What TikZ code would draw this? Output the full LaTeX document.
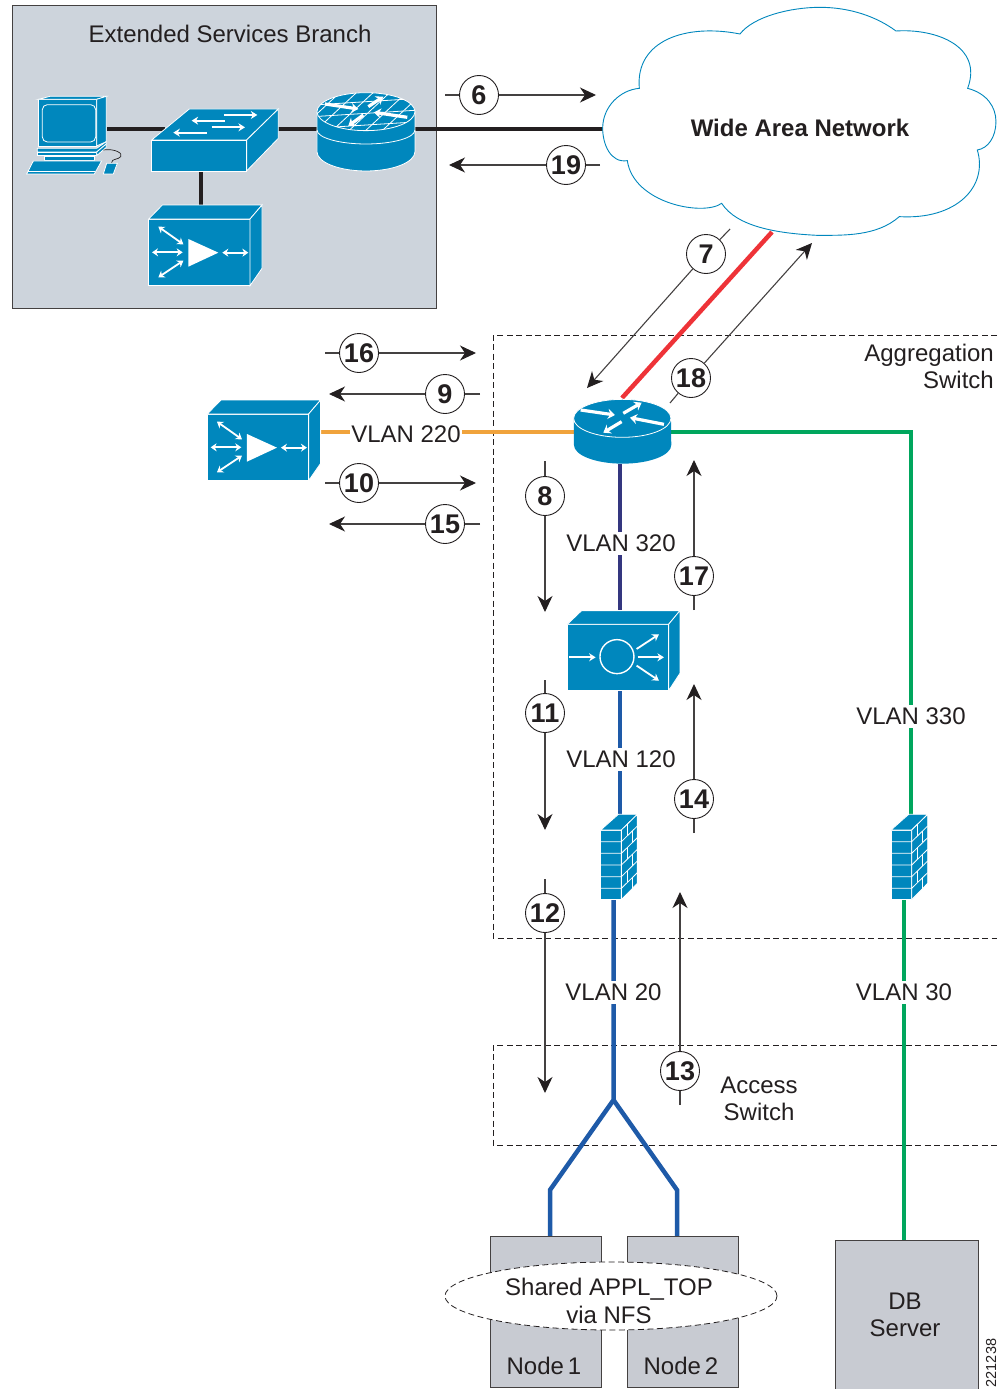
\documentclass[tikz,border=0pt]{standalone}
\usepackage{fontspec}
\setmainfont{Liberation Sans}
\usetikzlibrary{arrows.meta,shapes.geometric,calc}
\definecolor{cisco}{HTML}{0087BD}
\definecolor{panelgray}{HTML}{CDD4DC}
\definecolor{servergray}{HTML}{C8CBD2}
\definecolor{vorange}{HTML}{F0A33C}
\definecolor{vgreen}{HTML}{00A65D}
\definecolor{vpurple}{HTML}{34367F}
\definecolor{vblue}{HTML}{1E5AA8}
\definecolor{vred}{HTML}{EE3338}
\definecolor{inkc}{HTML}{231F20}
\tikzset{
  lbl/.style={font=\fontsize{24}{27}\selectfont,text=inkc,inner sep=0pt,align=center},
  vlan/.style={lbl,fill=white,inner xsep=1pt,inner ysep=3pt},
  num/.style={circle,draw=inkc,line width=0.9pt,fill=white,minimum size=39pt,inner sep=0pt,
     text=inkc,font=\bfseries\fontsize{27}{27}\selectfont},
  flow/.style={draw=inkc!85,line width=1.1pt},
  flowtip/.style={flow,-{Stealth[length=16pt,width=15pt,inset=5pt,inkc]}},
  wire/.style={line width=4.5pt},
  blackwire/.style={wire,draw=inkc},
  wl/.style={draw=white,line width=0.8pt},
  wa/.style={draw=white,line width=1.8pt,{Stealth[length=6pt,width=8pt]}-{Stealth[length=6pt,width=8pt]}},
  wb/.style={draw=white,line width=1.8pt,-{Stealth[length=6.5pt,width=8pt]}},
  wt/.style={draw=white,line width=3.2pt,-{Stealth[length=7pt,width=10pt]}},
  box/.style={draw=inkc!85,line width=1pt,fill=servergray},
  dashbox/.style={draw=inkc,line width=0.8pt,dash pattern=on 6pt off 3.5pt},
}
\newcommand{\iconscope}[3]{\coordinate (#3) at (#1,#2);\begin{scope}[shift={(#1,#2)},x=0.3333pt,y=-0.3333pt]}
% director icon, origin = top-left of front face
\newcommand{\director}[3]{\iconscope{#1}{#2}{#3}
  \fill[cisco,wl] (0,0) rectangle (304,200);
  \fill[cisco,wl] (0,0) -- (41,-42) -- (340,-42) -- (304,0) -- cycle;
  \fill[cisco,wl] (304,0) -- (340,-42) -- (340,148) -- (304,200) -- cycle;
  \fill[white] (119,60) -- (119,143) -- (209,101) -- cycle;
  \draw[wa] (221,101) -- (299,101);
  \draw[wa] (29,23) -- (104,76);
  \draw[wa] (10,100) -- (102,100);
  \draw[wa] (29,175) -- (104,125);
\end{scope}}
% load balancer icon
\newcommand{\balancer}[3]{\iconscope{#1}{#2}{#3}
  \fill[cisco,wl] (0,0) rectangle (304,199);
  \fill[cisco,wl] (0,0) -- (43,-41) -- (338,-41) -- (304,0) -- cycle;
  \fill[cisco,wl] (304,0) -- (338,-41) -- (338,147) -- (304,199) -- cycle;
  \draw[white,line width=1.4pt] (149,97) circle [radius=51];
  \draw[wb] (6,99) -- (85,99);
  \draw[wb] (208,74) -- (275,30);
  \draw[wb] (211,99) -- (290,99);
  \draw[wb] (208,124) -- (275,169);
\end{scope}}
% firewall icon
\newcommand{\firewall}[3]{\iconscope{#1}{#2}{#3}
  \fill[cisco,wl] (0,0) rectangle (62,209);
  \fill[cisco,wl] (0,0) -- (53,-47) -- (110,-47) -- (62,0) -- cycle;
  \fill[cisco,wl] (62,0) -- (110,-47) -- (110,160) -- (62,209) -- cycle;
  \foreach \yy in {35,70,105,140,175} {
    \draw[wl] (0,\yy) -- (62,\yy) -- (110,\yy-47);
  }
  \foreach \yy/\xx in {0/80,35/95,70/80,105/95,140/80,175/95} {
    \draw[wl] (\xx,{\yy-(\xx-62)}) -- (\xx,{\yy-(\xx-62)+35});
  }
\end{scope}}
\begin{document}
\begin{tikzpicture}[x=1pt,y=-1pt]
\useasboundingbox (0,0) rectangle (997,1389);
% branch panel
\node[draw=inkc!85,line width=1pt,fill=panelgray,minimum width=423.5pt,minimum height=302.5pt,inner sep=0pt,anchor=north west] (panel) at (12,5.5) {};
\node[lbl] (branchlabel) at (230,34) {Extended Services Branch};

% anchor points of connectors
\coordinate (pcR) at (107,129);
\coordinate (swL) at (165,129);
\coordinate (swR) at (278,129);
\coordinate (rbL) at (318,129);
\coordinate (rbR) at (415,129);
\coordinate (wanL) at (604,129);
\coordinate (swB) at (201,170);
\coordinate (dirT) at (201,206);
\coordinate (wanB) at (772,232);
\coordinate (r2T) at (622,398);
\coordinate (dir2R) at (320,432);
\coordinate (r2L) at (574,432);
\coordinate (r2R) at (671,432);
\coordinate (bendG) at (911,432);
\coordinate (fw2T) at (911,815);
\coordinate (fw2B) at (904,899);
\coordinate (dbT) at (904,1240);
\coordinate (r2B) at (620,464);
\coordinate (lbT) at (620,611);
\coordinate (lbB) at (620,690);
\coordinate (fw1T) at (620,816);
\coordinate (fw1B) at (613.5,899);
\coordinate (fork) at (613.5,1100);
\coordinate (forkL) at (550,1190);
\coordinate (forkR) at (677,1190);
\coordinate (n1T) at (550,1237);
\coordinate (n2T) at (677,1237);

% dashed regions
\coordinate (agTR) at (997,335);
\coordinate (agTL) at (493,335);
\coordinate (agBL) at (493,938);
\coordinate (agBR) at (997,938);
\draw[dashbox] (agTR) -- (agTL) -- (agBL) -- (agBR);
\coordinate (acTR) at (997,1045);
\coordinate (acTL) at (493,1045);
\coordinate (acBL) at (493,1145);
\coordinate (acBR) at (997,1145);
\draw[dashbox] (acTR) -- (acTL) -- (acBL) -- (acBR);

% wires
\draw[blackwire] (pcR) -- (swL);
\draw[blackwire] (swR) -- (rbL);
\draw[blackwire] (rbR) -- (wanL);
\draw[blackwire] (swB) -- (dirT);
\draw[wire,vred] (wanB) -- (r2T);
\draw[wire,vorange] (dir2R) -- (r2L);
\draw[wire,vgreen,line join=miter] (r2R) -- (bendG) -- (fw2T);
\draw[wire,vgreen] (fw2B) -- (dbT);
\draw[wire,vpurple] (r2B) -- (lbT);
\draw[wire,vblue] (lbB) -- (fw1T);
\draw[wire,vblue,line join=miter] (fw1B) -- (fork) -- (forkL) -- (n1T);
\draw[wire,vblue,line join=miter] (fork) -- (forkR) -- (n2T);

% cloud
\begin{scope}[shift={(590,0)},x=0.3333pt,y=-0.3333pt]
\filldraw[draw=cisco,fill=white,line width=0.9pt]
 (148,265) .. controls (135,120) and (290,70) .. (450,102)
 .. controls (490,50) and (600,22) .. (690,22)
 .. controls (780,22) and (860,50) .. (918,93)
 .. controls (1040,85) and (1180,140) .. (1133,265)
 .. controls (1190,280) and (1218,320) .. (1218,365)
 .. controls (1218,410) and (1195,445) .. (1162,450)
 .. controls (1195,560) and (1100,660) .. (928,650)
 .. controls (860,710) and (760,706) .. (680,706)
 .. controls (560,700) and (440,680) .. (395,610)
 .. controls (340,650) and (130,610) .. (112,482)
 .. controls (60,490) and (38,430) .. (38,385)
 .. controls (38,320) and (90,270) .. (148,265) -- cycle;
\end{scope}
\node[lbl,font=\bfseries\fontsize{24}{27}\selectfont] (wan) at (800,128) {Wide Area Network};

% PC icon
\begin{scope}[x=0.3333pt,y=-0.3333pt]
\coordinate (pc) at (200,360);
\fill[cisco,wl] (115,298) rectangle (290,438);
\fill[cisco,wl] (115,298) -- (150,289) -- (319,289) -- (290,298) -- cycle;
\fill[cisco,wl] (290,298) -- (319,289) -- (319,425) -- (290,438) -- cycle;
\draw[wl,rounded corners=5pt] (127,314) rectangle (287,426);
\fill[cisco,wl] (112,445) -- (290,445) -- (319,425) -- (319,432) -- (290,456) -- (112,456) -- cycle;
\fill[cisco,wl] (112,456) rectangle (290,467);
\fill[cisco,wl] (290,456) -- (319,432) -- (319,442) -- (290,467) -- cycle;
\fill[cisco,wl] (132,468) rectangle (282,481);
\fill[cisco,wl] (80,522) -- (100,483) -- (305,483) -- (283,522) -- cycle;
\draw[wl] (84,514) -- (286,514);
\fill[cisco,wl] (310,522) -- (320,490) -- (352,490) -- (340,522) -- cycle;
\draw[inkc,line width=0.7pt] (310,450) .. controls (345,445) and (370,460) .. (362,470) .. controls (355,480) and (335,475) .. (335,488);
\end{scope}

% switch icon
\begin{scope}[x=0.3333pt,y=-0.3333pt]
\coordinate (switch) at (600,420);
\fill[cisco,wl] (455,420) rectangle (740,513);
\fill[cisco,wl] (455,420) -- (568,327) -- (835,327) -- (740,420) -- cycle;
\fill[cisco,wl] (740,420) -- (835,327) -- (835,415) -- (740,513) -- cycle;
\draw[wb] (675,362) -- (575,362);
\draw[wb] (672,345) -- (772,345);
\draw[wb] (635,382) -- (735,382);
\draw[wb] (620,398) -- (520,398);
\end{scope}

% branch router
\begin{scope}[x=0.3333pt,y=-0.3333pt]
\coordinate (routerb) at (1098,390);
\fill[cisco] (951,335) -- (951,455) arc[start angle=180,end angle=0,x radius=147,y radius=58] -- (1245,335) -- cycle;
\draw[wl] (951,335) -- (951,455) arc[start angle=180,end angle=0,x radius=147,y radius=58] -- (1245,335);
\draw[wl] (951,390) arc[start angle=180,end angle=0,x radius=147,y radius=42];
\fill[cisco,wl] (1098,335) ellipse [x radius=147,y radius=57];
\begin{scope}
\clip (1098,335) ellipse [x radius=147,y radius=57];
\foreach \dd in {-140,-90,...,160} { \draw[wl] (1098+\dd+70,270) -- (1098+\dd-70,400); }
\foreach \yy in {300,335,370} { \draw[wl] (940,\yy+15) -- (1260,\yy-5); }
\end{scope}
\draw[wt] (975,312) -- (1075,327);
\draw[wt] (1105,320) -- (1150,290);
\draw[wt] (1090,345) -- (1045,378);
\draw[wt] (1222,352) -- (1122,337);
\end{scope}

% branch director
\director{148.7}{219}{dirb}

% data-centre director
\director{207.3}{414}{dirdc}

% data-centre router
\begin{scope}[shift={(190,380)},x=0.3333pt,y=-0.3333pt]
\coordinate (router) at (1297,150);
\fill[cisco] (1152,115) -- (1152,195) arc[start angle=180,end angle=0,x radius=146,y radius=56] -- (1443,115) -- cycle;
\fill[cisco,wl] (1297,115) ellipse [x radius=146,y radius=57];
\draw[wt] (1172,90) -- (1275,105);
\draw[wt] (1300,100) -- (1355,68);
\draw[wt] (1295,125) -- (1240,158);
\draw[wt] (1422,133) -- (1320,113);
\end{scope}

% load balancer
\balancer{567.3}{624.3}{lb}

% firewalls
\firewall{600.7}{830}{fw1}
\firewall{891}{830}{fw2}

% servers
\node[box,minimum width=111pt,minimum height=151pt,inner sep=0pt,anchor=north west] (node1) at (489.5,1236) {};
\node[box,minimum width=111pt,minimum height=151pt,inner sep=0pt,anchor=north west] (node2) at (626.5,1236) {};
\node[box,minimum width=143pt,minimum height=152pt,inner sep=0pt,anchor=north west] (db) at (834.5,1240) {};
\node[ellipse,draw=inkc,fill=white,line width=0.8pt,dash pattern=on 6pt off 3.5pt,minimum width=332pt,minimum height=68pt,inner sep=0pt] (nfs) at (611,1296) {};
\node[lbl] (nfs1) at (609,1289) {Shared APPL\_TOP};
\node[lbl] (nfs2) at (609,1315) {via NFS};
\node[lbl] (n1l) at (544,1366) {Node\,1};
\node[lbl] (n2l) at (681,1366) {Node\,2};
\node[lbl,text depth=0pt] (dbl) at (905,1315) {DB\\Server};
\node[lbl,font=\fontsize{14.5}{16}\selectfont,rotate=90] (figid) at (991,1363) {221238};

% labels
\node[lbl,align=right,anchor=north east] (agl) at (994,344) {Aggregation\\Switch};
\node[lbl] (acl) at (759,1099) {Access\\Switch};
\node[vlan] (v220) at (406,434) {VLAN 220};
\node[vlan] (v320) at (621,543) {VLAN 320};
\node[vlan] (v120) at (621,759) {VLAN 120};
\node[vlan] (v20) at (613.5,992) {VLAN 20};
\node[vlan] (v330) at (911,716) {VLAN 330};
\node[vlan] (v30) at (904,992) {VLAN 30};

% numbered flows: name, start, end, circle, text
\newcommand{\flowarrow}[5]{%
  \coordinate (#1a) at (#2);\coordinate (#1b) at (#3);
  \node[num] (#1) at (#4) {\raisebox{-1pt}{#5}};
  \draw[flow] (#1a) -- (#1);
  \draw[flowtip] (#1) -- (#1b);}
\flowarrow{f6}{445,95}{596,95}{479,95}{6}
\flowarrow{f19}{600,165}{449,165}{566,165}{19}
\flowarrow{f7}{730,229}{587,388}{706,254}{7}
\flowarrow{f18}{670,403}{812,243}{691,378}{18}
\flowarrow{f16}{325,353}{476,353}{359,353}{16}
\flowarrow{f9}{480,394}{329,394}{445,394}{9}
\flowarrow{f10}{325,483}{476,483}{359,483}{10}
\flowarrow{f15}{480,524}{329,524}{445,524}{15}
\flowarrow{f8}{545,461}{545,612}{545,496}{8}
\flowarrow{f17}{694,610}{694,460}{694,576}{17}
\flowarrow{f11}{545,680}{545,830}{545,713}{11}
\flowarrow{f14}{694,833}{694,684}{694,799}{14}
\flowarrow{f12}{545,879}{545,1093}{545,913}{12}
\flowarrow{f13}{680,1105}{680,892}{680,1071}{13}
\end{tikzpicture}
\end{document}
